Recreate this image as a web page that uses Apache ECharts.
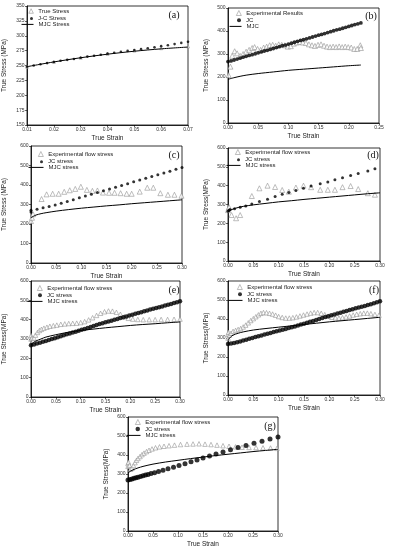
<!DOCTYPE html>
<html><head><meta charset="utf-8">
<script src="https://cdn.jsdelivr.net/npm/echarts@6/dist/echarts.min.js"></script>
<style>html,body{margin:0;padding:0;background:#fff}#c{width:395px;height:550px}</style>
</head><body><div id="c"></div><script>
// ---------- DATA (true strain, true stress MPa) ----------
const aTrue = [[0.01,248],[0.02,256],[0.03,263],[0.04,269.5],[0.05,275],[0.06,279],[0.07,282]];
const aJC = [[0.01,248],[0.0125,250],[0.015,252],[0.0175,254],[0.02,256],[0.0225,258],[0.025,259.5],[0.0275,261],[0.03,263],[0.0325,265],[0.035,266.5],[0.0375,268],[0.04,270],[0.0425,271.5],[0.045,273],[0.0475,274.5],[0.05,276],[0.0525,277.5],[0.055,279],[0.0575,280.5],[0.06,282.5],[0.0625,284],[0.065,286],[0.0675,288],[0.07,290]];
const aMJC = [[0.01,248],[0.02,256],[0.03,263],[0.04,269],[0.05,274],[0.06,278],[0.07,281]];

const bExp = [[0.001,208],[0.004,245],[0.007,292],[0.011,312],[0.015,303],[0.02,292],[0.025,300],[0.03,310],[0.035,318],[0.04,326],[0.044,330],[0.049,322],[0.054,318],[0.059,328],[0.064,332],[0.069,338],[0.074,340],[0.079,336],[0.084,342],[0.089,340],[0.094,338],[0.099,332],[0.104,334],[0.109,345],[0.114,350],[0.119,352],[0.124,350],[0.129,348],[0.134,342],[0.139,338],[0.144,335],[0.149,340],[0.154,342],[0.159,336],[0.164,332],[0.169,330],[0.174,332],[0.179,330],[0.184,333],[0.189,330],[0.194,332],[0.199,330],[0.204,328],[0.209,322],[0.214,322],[0.219,338],[0.22,326]];
const bJC = [[0,267],[0.005,270],[0.01,274],[0.015,278],[0.02,282],[0.025,286],[0.03,290],[0.035,294],[0.04,297],[0.045,301],[0.05,305],[0.055,309],[0.06,313],[0.065,316],[0.07,320],[0.075,324],[0.08,328],[0.085,332],[0.09,336],[0.095,339],[0.1,343],[0.105,347],[0.11,351],[0.115,355],[0.12,359],[0.125,362],[0.13,366],[0.135,370],[0.14,374],[0.145,378],[0.15,382],[0.155,385],[0.16,389],[0.165,393],[0.17,397],[0.175,401],[0.18,405],[0.185,408],[0.19,412],[0.195,416],[0.2,420],[0.205,424],[0.21,428],[0.215,431],[0.22,435]];
const bMJC = [[0,190],[0.01,197],[0.02,203],[0.03,208],[0.05,215],[0.075,222],[0.1,229],[0.125,234],[0.15,239],[0.175,244],[0.2,249],[0.22,252]];

const cExp = [[0,215],[0.002,232],[0.004,250],[0.021,328],[0.031,352],[0.043,355],[0.055,355],[0.066,365],[0.077,373],[0.088,380],[0.099,391],[0.111,375],[0.122,370],[0.132,372],[0.143,361],[0.155,360],[0.166,360],[0.178,358],[0.19,355],[0.2,355],[0.216,366],[0.231,386],[0.243,386],[0.257,358],[0.272,350],[0.285,350],[0.299,345]];
const cJC = [[0,262],[0,270],[0.012,276],[0.024,283],[0.036,290],[0.048,298],[0.06,307],[0.072,316],[0.084,325],[0.096,334],[0.108,344],[0.12,353],[0.132,362],[0.144,371],[0.156,380],[0.168,389],[0.18,398],[0.192,407],[0.204,417],[0.216,426],[0.228,435],[0.24,444],[0.252,453],[0.264,462],[0.276,471],[0.288,481],[0.3,490]];
const cMJC = [[0,232],[0.005,240],[0.01,246],[0.02,253],[0.03,258],[0.05,266],[0.075,274],[0.1,281],[0.125,287],[0.15,293],[0.175,298],[0.2,304],[0.225,309],[0.25,314],[0.275,319],[0.3,324]];

const dExp = [[0,270],[0.001,278],[0.002,286],[0.007,244],[0.016,227],[0.024,244],[0.047,345],[0.062,386],[0.078,400],[0.093,393],[0.107,377],[0.12,368],[0.134,390],[0.149,400],[0.164,392],[0.182,378],[0.197,378],[0.211,378],[0.226,392],[0.242,398],[0.257,382],[0.276,360],[0.29,352]];
const dJC = [[0,264],[0.002,270],[0.004,274],[0.013,278],[0.024,285],[0.035,292],[0.047,302],[0.062,316],[0.078,328],[0.093,342],[0.107,354],[0.12,364],[0.134,374],[0.149,386],[0.164,398],[0.182,410],[0.197,420],[0.211,432],[0.226,442],[0.242,454],[0.257,465],[0.276,478],[0.29,490]];
const dMJC = [[0,262],[0.005,270],[0.01,276],[0.02,284],[0.03,290],[0.05,298],[0.075,306],[0.1,314],[0.125,320],[0.15,327],[0.175,333],[0.2,339],[0.225,345],[0.25,351],[0.275,357],[0.3,362]];

const eExp = [[0,300],[0,318],[0.002,305],[0.004,290],[0.006,305],[0.009,320],[0.013,334],[0.017,344],[0.021,350],[0.026,356],[0.032,361],[0.038,366],[0.045,369],[0.052,372],[0.06,376],[0.068,378],[0.076,380],[0.084,381],[0.092,382],[0.1,385],[0.108,390],[0.116,399],[0.124,410],[0.132,422],[0.14,433],[0.148,441],[0.156,445],[0.164,444],[0.172,438],[0.18,428],[0.188,415],[0.196,407],[0.205,403],[0.215,401],[0.226,400],[0.238,400],[0.25,400],[0.262,401],[0.275,401],[0.288,402],[0.3,403]];
const eJC = [[0,268],[0.006,272],[0.012,277],[0.018,281],[0.024,286],[0.03,290],[0.036,295],[0.042,300],[0.048,304],[0.054,309],[0.06,314],[0.066,319],[0.072,324],[0.078,328],[0.084,333],[0.09,338],[0.096,343],[0.102,348],[0.108,352],[0.114,357],[0.12,362],[0.126,367],[0.132,372],[0.138,377],[0.144,381],[0.15,386],[0.156,390],[0.162,395],[0.168,399],[0.174,404],[0.18,408],[0.186,413],[0.192,417],[0.198,422],[0.204,426],[0.21,430],[0.216,435],[0.222,439],[0.228,443],[0.234,447],[0.24,452],[0.246,456],[0.252,460],[0.258,464],[0.264,468],[0.27,473],[0.276,477],[0.282,481],[0.288,486],[0.294,490],[0.3,495]];
const eMJC = [[0,272],[0.005,282],[0.01,290],[0.02,300],[0.03,310],[0.05,322],[0.075,335],[0.1,344],[0.125,351],[0.15,358],[0.175,364],[0.2,370],[0.225,375],[0.25,379],[0.275,384],[0.3,388]];

const fExp = [[0,300],[0,320],[0.001,330],[0.003,315],[0.006,325],[0.01,335],[0.015,340],[0.02,345],[0.025,350],[0.03,358],[0.035,368],[0.04,380],[0.045,392],[0.05,402],[0.055,412],[0.06,422],[0.065,430],[0.07,434],[0.076,433],[0.082,430],[0.088,426],[0.094,420],[0.1,413],[0.107,408],[0.114,405],[0.121,405],[0.128,407],[0.135,411],[0.142,416],[0.149,421],[0.156,426],[0.163,431],[0.17,434],[0.177,434],[0.184,430],[0.191,423],[0.198,415],[0.205,409],[0.212,406],[0.219,405],[0.226,407],[0.233,411],[0.24,416],[0.247,421],[0.254,425],[0.261,428],[0.268,431],[0.275,431],[0.282,428],[0.29,424],[0.298,420]];
const fJC = [[0,268],[0.006,271],[0.012,274],[0.018,278],[0.024,282],[0.03,287],[0.036,291],[0.042,296],[0.048,300],[0.054,305],[0.06,309],[0.066,313],[0.072,318],[0.078,322],[0.084,326],[0.09,331],[0.096,335],[0.102,339],[0.108,343],[0.114,348],[0.12,352],[0.126,357],[0.132,361],[0.138,366],[0.144,371],[0.15,375],[0.156,380],[0.162,385],[0.168,390],[0.174,395],[0.18,400],[0.186,405],[0.192,410],[0.198,415],[0.204,420],[0.21,424],[0.216,429],[0.222,433],[0.228,438],[0.234,442],[0.24,447],[0.246,451],[0.252,456],[0.258,460],[0.264,465],[0.27,469],[0.276,474],[0.282,478],[0.288,483],[0.294,488],[0.3,493]];
const fMJC = [[0,290],[0.005,305],[0.01,315],[0.02,325],[0.03,332],[0.05,342],[0.075,350],[0.1,357],[0.125,364],[0.15,371],[0.175,378],[0.2,385],[0.225,391],[0.25,397],[0.275,403],[0.3,409]];

const gExp = [[0,340],[0,355],[0.001,362],[0.003,345],[0.005,325],[0.008,330],[0.011,345],[0.014,360],[0.017,372],[0.02,382],[0.024,392],[0.028,402],[0.032,410],[0.037,418],[0.042,425],[0.048,432],[0.055,438],[0.063,443],[0.072,446],[0.082,449],[0.093,452],[0.105,455],[0.118,457],[0.13,458],[0.142,459],[0.154,457],[0.166,455],[0.178,452],[0.19,449],[0.202,446],[0.215,443],[0.228,441],[0.242,440],[0.256,439],[0.27,438],[0.285,437],[0.298,435]];
const gJC = [[0,268],[0.004,271],[0.008,274],[0.012,277],[0.016,280],[0.02,283],[0.025,287],[0.03,291],[0.035,295],[0.04,298],[0.046,302],[0.053,307],[0.061,313],[0.07,320],[0.08,328],[0.091,336],[0.102,345],[0.114,354],[0.126,364],[0.138,374],[0.15,384],[0.163,395],[0.176,405],[0.19,416],[0.205,428],[0.22,439],[0.236,450],[0.252,462],[0.268,473],[0.284,484],[0.3,495]];
const gMJC = [[0,305],[0.005,315],[0.01,322],[0.02,332],[0.03,340],[0.05,352],[0.075,363],[0.1,372],[0.125,381],[0.15,389],[0.175,397],[0.2,404],[0.225,411],[0.25,418],[0.275,424],[0.3,430]];

const namesA = ['True Stress','J-C Stress','MJC Stress'];
const namesB = ['Experimental Results','JC','MJC'];
const namesC = ['Experimental flow stress','JC stress','MJC stress'];
const xTitle = 'True Strain';
const yTitle1 = 'True Stress (MPa)';
const yTitle2 = 'True Stress(MPa)';

// ---------- LAYOUT ----------
// lg: [text start x, top y, line icon width]
const panels = [
 {lab:'(a)', names:namesA, exp:aTrue, jc:aJC, mjc:aMJC, g:[26,6,162,119], x:[0.01,0.07,0.01], y:[150,350,25], yName:yTitle1, yGap:19, xGap:10, lg:[39,8,12], lp:[174,15], jcS:2.6, triS:3, lgTri:4.5, lgDot:3},
 {lab:'(b)', names:namesB, exp:bExp, jc:bJC, mjc:bMJC, g:[228,8,151,115], x:[0,0.25,0.05], y:[0,500,100], yName:yTitle1, yGap:18, xGap:10, lg:[247,10,12], lp:[371,16], jcS:3.8, triS:5, lgTri:5, lgDot:4},
 {lab:'(c)', names:namesC, exp:cExp, jc:cJC, mjc:cMJC, g:[29,146,153,117], x:[0,0.3,0.05], y:[0,600,100], yName:yTitle1, yGap:23, xGap:10, lg:[49,151,15], lp:[174,155], jcS:3, triS:5, lgTri:5, lgDot:3},
 {lab:'(d)', names:namesC, exp:dExp, jc:dJC, mjc:dMJC, g:[228,148,152,113], x:[0,0.3,0.05], y:[0,600,100], yName:yTitle2, yGap:18, xGap:10, lg:[246,149,14], lp:[373,155], jcS:3, triS:5, lgTri:5, lgDot:3},
 {lab:'(e)', names:namesC, exp:eExp, jc:eJC, mjc:eMJC, g:[31,281,149,116], x:[0,0.3,0.05], y:[0,600,100], yName:yTitle2, yGap:23, xGap:10, lg:[48,285,15], lp:[174,290], jcS:4.5, triS:4.5, lgTri:5, lgDot:4},
 {lab:'(f)', names:namesC, exp:fExp, jc:fJC, mjc:fMJC, g:[228,281,152,114], x:[0,0.3,0.05], y:[0,600,100], yName:yTitle2, yGap:18, xGap:10, lg:[248,284,14], lp:[374,290], jcS:4.5, triS:4.5, lgTri:5, lgDot:4},
 {lab:'(g)', names:namesC, exp:gExp, jc:gJC, mjc:gMJC, g:[128,417,150,114], x:[0,0.3,0.05], y:[0,600,100], yName:yTitle2, yGap:18, xGap:10, lg:[146,419,14], lp:[270,426], jcS:5, triS:4.5, lgTri:5, lgDot:4.5}
];

const FONT = 'Liberation Sans';
const TRI_COLOR = '#8a8a8a';
const option = {animation:false, backgroundColor:'#fff', grid:[], xAxis:[], yAxis:[], series:[], legend:[], graphic:[]};
panels.forEach((p, i) => {
  const zw = '\u200b'.repeat(i);
  const nm = p.names.map(n => n + zw);
  option.grid.push({left:p.g[0], top:p.g[1], width:p.g[2], height:p.g[3], show:true, borderColor:'#000', borderWidth:0.8});
  const axisCommon = {axisLine:{show:true, lineStyle:{color:'#000', width:0.8}}, axisTick:{show:true, length:2, lineStyle:{color:'#000', width:0.6}}, splitLine:{show:false}, nameTextStyle:{fontSize:6.5, fontFamily:FONT, color:'#222'}};
  option.xAxis.push(Object.assign({}, axisCommon, {type:'value', gridIndex:i, min:p.x[0], max:p.x[1], interval:p.x[2], name:xTitle, nameLocation:'middle', nameGap:p.xGap,
    axisLabel:{fontSize:5, fontFamily:FONT, color:'#333', margin:2.5, formatter:v => v.toFixed(2)}}));
  option.yAxis.push(Object.assign({}, axisCommon, {type:'value', gridIndex:i, min:p.y[0], max:p.y[1], interval:p.y[2], name:p.yName, nameLocation:'middle', nameGap:p.yGap,
    axisLabel:{fontSize:5, fontFamily:FONT, color:'#333', margin:2.5}}));
  option.series.push({name:nm[0], type:'scatter', xAxisIndex:i, yAxisIndex:i, data:p.exp, symbol:'triangle', symbolSize:p.triS,
    itemStyle:{color:'#fff', borderColor:TRI_COLOR, borderWidth:0.7}, z:2});
  option.series.push({name:nm[1], type:'scatter', xAxisIndex:i, yAxisIndex:i, data:p.jc, symbol:'circle', symbolSize:p.jcS,
    itemStyle:{color:'#000'}, z:3});
  option.series.push({name:nm[2], type:'line', xAxisIndex:i, yAxisIndex:i, data:p.mjc, symbol:'none', showSymbol:false, smooth:0.3,
    lineStyle:{color:'#000', width:1}, itemStyle:{color:'#000'}, z:4});
  const rowH = 6.7;
  const txt = {fontSize:6, fontFamily:FONT, color:'#222'};
  option.legend.push({orient:'vertical', left:p.lg[0] - 5 - p.lgTri - 1, top:p.lg[1], itemWidth:p.lgTri, itemHeight:p.lgTri, padding:0, selectedMode:false,
    data:[{name:nm[0], icon:'triangle', itemStyle:{color:'#fff', borderColor:TRI_COLOR, borderWidth:0.7}}], textStyle:txt});
  option.legend.push({orient:'vertical', left:p.lg[0] - 5 - p.lgDot - 1, top:p.lg[1] + rowH + (p.lgTri - p.lgDot) / 2, itemWidth:p.lgDot, itemHeight:p.lgDot, padding:0, selectedMode:false,
    data:[{name:nm[1], icon:'circle'}], textStyle:txt});
  option.legend.push({orient:'vertical', left:p.lg[0] - 5 - p.lg[2] - 1, top:p.lg[1] + 2 * rowH, itemWidth:p.lg[2], itemHeight:5, padding:0, selectedMode:false,
    data:[{name:nm[2], itemStyle:{opacity:0}, lineStyle:{color:'#000', width:1, opacity:1}}], textStyle:txt});
  option.graphic.push({type:'text', x:p.lp[0], y:p.lp[1], style:{text:p.lab, font:'10px "Liberation Serif", "Times New Roman", serif', fill:'#111', align:'center', verticalAlign:'middle'}});
});

const chart = echarts.init(document.getElementById('c'), null, {renderer:'canvas'});
chart.setOption(option);
</script></body></html>
